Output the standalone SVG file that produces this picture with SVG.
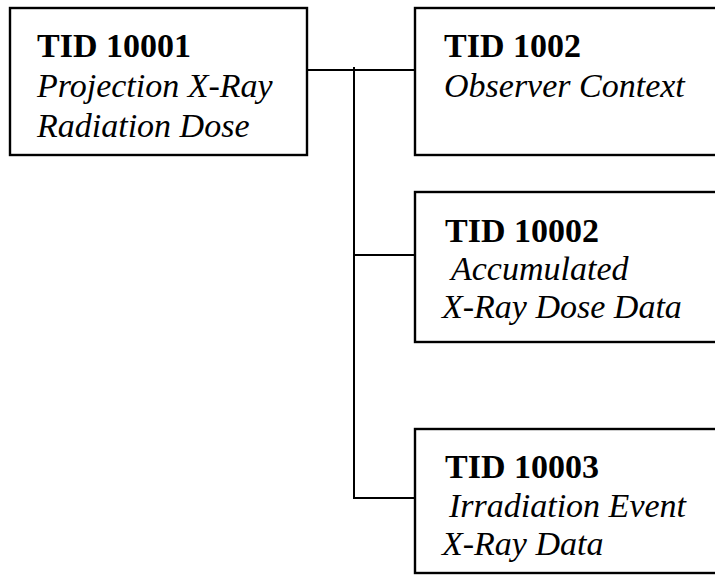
<svg xmlns="http://www.w3.org/2000/svg" width="715" height="576" viewBox="0 0 715 576">
<style>
.box{fill:#fff;stroke:#000;stroke-width:2.4}
.t{font-family:"Liberation Serif","Times New Roman",serif;font-size:34px;fill:#000}
.b{font-weight:bold}
.i{font-style:italic}
.c{fill:none;stroke:#000;stroke-width:2}
</style>
<g id="connectors">
<path class="c" d="M307 70 H415"/>
<path class="c" d="M354 67 V498 H415"/>
<path class="c" d="M354 255 H415"/>
</g>
<g id="tid10001">
<rect class="box" x="10" y="8" width="297" height="147"/>
<text class="t b" x="37" y="57">TID 10001</text>
<text class="t i" x="37" y="97">Projection X-Ray</text>
<text class="t i" x="37" y="137">Radiation Dose</text>
</g>
<g id="tid1002">
<rect class="box" x="415" y="8" width="310" height="147"/>
<text class="t b" x="444" y="57">TID 1002</text>
<text class="t i" x="444" y="97">Observer Context</text>
</g>
<g id="tid10002">
<rect class="box" x="415" y="192" width="310" height="150"/>
<text class="t b" x="445" y="242">TID 10002</text>
<text class="t i" x="451" y="280">Accumulated</text>
<text class="t i" x="442" y="318">X-Ray Dose Data</text>
</g>
<g id="tid10003">
<rect class="box" x="415" y="429" width="310" height="144"/>
<text class="t b" x="445" y="478">TID 10003</text>
<text class="t i" x="449" y="517">Irradiation Event</text>
<text class="t i" x="442" y="555">X-Ray Data</text>
</g>
</svg>
